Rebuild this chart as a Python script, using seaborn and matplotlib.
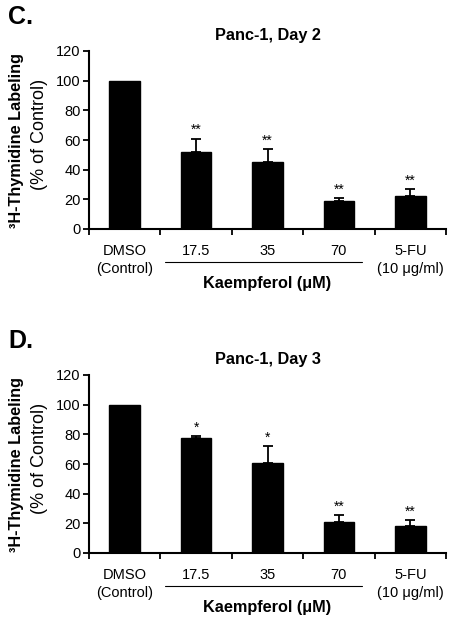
import pandas as pd
import matplotlib
matplotlib.use('Agg')
import matplotlib.pyplot as plt
import seaborn as sns

# data
groups = ["DMSO\n(Control)", "17.5", "35", "70", "5-FU\n(10 \u03bcg/ml)"]
day2_mean = [100, 52, 45, 19, 22]
day2_err = [0, 9, 9, 2, 5]
day2_stars = ["", "**", "**", "**", "**"]
day3_mean = [100, 77.5, 61, 21, 18]
day3_err = [0, 1.5, 11, 4.5, 4]
day3_stars = ["", "*", "*", "**", "**"]

sns.set_theme(style="ticks")
plt.rcParams['font.family'] = ['Liberation Sans', 'DejaVu Sans']
plt.rcParams['text.color'] = 'black'
plt.rcParams['xtick.color'] = 'black'
plt.rcParams['ytick.color'] = 'black'

fig = plt.figure(figsize=(4.54, 6.2), dpi=100)
W, H = 454, 620


def panel(bottom_px, letter, title, means, errs, stars):
    # bottom_px: pixel row (from top) of the y=0 line
    ax = fig.add_axes([89 / W, (H - bottom_px) / H, 357 / W, 178 / H])
    df = pd.DataFrame({"group": groups, "value": means})
    sns.barplot(data=df, x="group", y="value", color="black", width=0.43,
                saturation=1, ax=ax, errorbar=None)
    for p in ax.patches:
        p.set_edgecolor("black")
    xs = [i for i, e in enumerate(errs) if e > 0]
    ax.errorbar(xs, [means[i] for i in xs], yerr=[[0] * len(xs), [errs[i] for i in xs]],
                fmt="none", ecolor="black", elinewidth=1.3, capsize=3.5, capthick=1.3)
    for x, (m, e, s) in enumerate(zip(means, errs, stars)):
        if s:
            ax.annotate(s, (x, m + e), xytext=(0, 1), textcoords="offset points",
                        ha="center", va="bottom", fontsize=10)

    ax.set_ylim(0, 120)
    ax.set_yticks(range(0, 121, 20))
    ax.set_xlim(-0.5, len(groups) - 0.5)
    ax.set_xticks([i - 0.5 for i in range(len(groups) + 1)])
    ax.set_xticklabels([])
    ax.set_xticks(list(range(len(groups))), minor=True)
    ax.set_xticklabels(groups, minor=True, fontsize=10.5, linespacing=1.3)
    ax.tick_params(axis="x", which="minor", length=0, pad=11)
    ax.tick_params(axis="x", which="major", length=4, width=1.3, direction="out")
    ax.tick_params(axis="y", length=4, width=1.3, direction="out", labelsize=10.5, pad=2)
    ax.set_xlabel("")
    ax.set_ylabel("")
    for sp in ["top", "right"]:
        ax.spines[sp].set_visible(False)
    for sp in ["left", "bottom"]:
        ax.spines[sp].set_linewidth(1.5)
        ax.spines[sp].set_color("black")

    # bracket line under kaempferol doses and label
    ax.plot([0.56, 3.33], [-0.186, -0.186], color="black", lw=0.8,
            transform=ax.get_xaxis_transform(), clip_on=False)
    ax.text(2.0, -0.305, "Kaempferol (\u03bcM)", transform=ax.get_xaxis_transform(),
            ha="center", va="center", fontsize=11.7, fontweight="bold")

    ax.set_title(title, fontsize=11.7, fontweight="bold", pad=8)
    fig.text(17 / W, (H - (bottom_px - 89)) / H, "\u00b3H-Thymidine Labeling",
             rotation=90, ha="center", va="center", fontsize=11.7, fontweight="bold")
    fig.text(39 / W, (H - (bottom_px - 95)) / H, "(% of Control)",
             rotation=90, ha="center", va="center", fontsize=13)
    fig.text(8 / W, (H - (bottom_px - 212)) / H, letter, ha="left", va="center",
             fontsize=18, fontweight="bold")
    return ax


panel(229, "C.", "Panc-1, Day 2", day2_mean, day2_err, day2_stars)
panel(553, "D.", "Panc-1, Day 3", day3_mean, day3_err, day3_stars)

fig.savefig("out.png", dpi=100, facecolor="white")
